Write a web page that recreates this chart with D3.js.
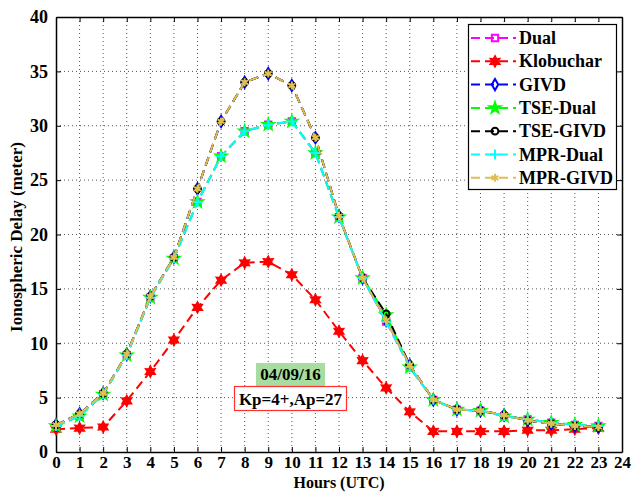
<!DOCTYPE html>
<html><head><meta charset="utf-8">
<script src="https://cdn.jsdelivr.net/npm/d3@7"></script>
<style>
body{margin:0;background:#fff;}
svg text{font-family:"Liberation Serif","Times New Roman",Times,serif !important;font-weight:bold;}
</style></head>
<body><svg id="c" width="632" height="492"></svg>
<script>
const hours = d3.range(0,24);
const xTicks = d3.range(0,25);
const yTicks = [0,5,10,15,20,25,30,35,40];
const seriesNames = ["Dual","Klobuchar","GIVD","TSE-Dual","TSE-GIVD","MPR-Dual","MPR-GIVD"];
const dual      = [2.4,3.3,5.3,8.9,14.2,17.8,23.0,27.2,29.5,30.1,30.4,27.5,21.6,16.0,12.0,7.8,4.8,3.9,3.8,3.3,3.0,2.7,2.5,2.4];
const klobuchar = [2.1,2.2,2.3,4.7,7.4,10.3,13.3,15.8,17.4,17.5,16.3,14.0,11.1,8.4,5.9,3.7,1.9,1.9,1.9,1.9,2.0,2.0,2.1,2.2];
const givd      = [2.5,3.5,5.4,9.0,14.3,17.9,24.2,30.4,34.0,34.8,33.7,28.9,21.7,16.0,12.1,8.0,4.8,3.9,3.8,3.4,2.9,2.6,2.4,2.3];
const tseDual   = [2.4,3.3,5.3,8.9,14.2,17.8,23.0,27.2,29.5,30.1,30.4,27.5,21.6,16.0,12.6,7.8,4.8,3.9,3.8,3.3,3.0,2.7,2.5,2.4];
const tseGivd   = [2.5,3.5,5.4,9.0,14.3,17.9,24.2,30.4,34.0,34.8,33.7,28.9,21.7,16.0,12.7,8.0,4.8,3.9,3.8,3.4,2.9,2.6,2.4,2.3];
const mprDual   = [2.4,3.3,5.3,8.9,14.2,17.8,23.0,27.2,29.5,30.1,30.4,27.5,21.6,16.0,12.0,7.8,4.8,3.9,3.8,3.3,3.0,2.7,2.5,2.4];
const mprGivd   = [2.5,3.5,5.4,9.0,14.3,17.9,24.2,30.4,34.0,34.8,33.7,28.9,21.7,16.0,12.1,8.0,4.8,3.9,3.8,3.4,2.9,2.6,2.4,2.3];
const dateLabel = "04/09/16";
const indexLabel = "Kp=4+,Ap=27";

const values = [dual,klobuchar,givd,tseDual,tseGivd,mprDual,mprGivd];
const colors = ["#ff00ff","#ff0000","#0000ff","#00ff00","#000000","#00ffff","#dfbf4f"];
const symbols = [d3.symbolSquare,"hex",d3.symbolDiamond,d3.symbolStar,d3.symbolCircle,"plus",d3.symbolAsterisk];
const fills = [false,true,false,true,false,false,false];

const svg = d3.select("#c");
const L=56,R=622,T=17,B=452;
const x = d3.scaleLinear().domain([0,24]).range([L,R]);
const y = d3.scaleLinear().domain([0,40]).range([B,T]);

// grid
const g = svg.append("g");
g.selectAll(".gx").data(xTicks.slice(1,-1)).enter().append("line")
 .attr("x1",d=>x(d)).attr("x2",d=>x(d)).attr("y1",T).attr("y2",B)
 .attr("stroke","#555").attr("stroke-width",1).attr("stroke-dasharray","1,3");
g.selectAll(".gy").data(yTicks.slice(1,-1)).enter().append("line")
 .attr("y1",d=>y(d)).attr("y2",d=>y(d)).attr("x1",L).attr("x2",R)
 .attr("stroke","#555").attr("stroke-width",1).attr("stroke-dasharray","1,3");

// axes
const xa = svg.append("g").attr("transform",`translate(0,${B})`)
 .call(d3.axisBottom(x).tickValues(xTicks).tickSizeInner(-5).tickSizeOuter(0).tickPadding(4));
const xt = svg.append("g").attr("transform",`translate(0,${T})`)
 .call(d3.axisTop(x).tickValues(xTicks).tickSizeInner(-5).tickSizeOuter(0).tickFormat(""));
const ya = svg.append("g").attr("transform",`translate(${L},0)`)
 .call(d3.axisLeft(y).tickValues(yTicks).tickSizeInner(-5).tickSizeOuter(0).tickPadding(8));
const yr = svg.append("g").attr("transform",`translate(${R},0)`)
 .call(d3.axisRight(y).tickValues(yTicks).tickSizeInner(-5).tickSizeOuter(0).tickFormat(""));
[xa,xt,ya,yr].forEach(a=>{
  a.attr("font-family","Liberation Serif");
  a.select(".domain").attr("stroke","#000").attr("stroke-width",1.5);
  a.selectAll(".tick line").attr("stroke","#000");
  a.selectAll("text").attr("font-size",18).attr("fill","#000");
});
xa.selectAll("text").attr("font-size",17);

function hexPath(r){
  const p=[];
  for(let i=0;i<12;i++){const a=Math.PI/6*i - Math.PI/2;const rr=i%2?r*0.55:r;p.push([rr*Math.cos(a),rr*Math.sin(a)]);}
  return "M"+p.map(q=>q.map(v=>v.toFixed(2)).join(",")).join("L")+"Z";
}
function markerPath(i){
  if(symbols[i]==="hex") return hexPath(5);
  if(symbols[i]==="plus") return "M-5,0L5,0M0,-5L0,5";
  const sizes=[40,0,36,35,36,0,45];
  return d3.symbol().type(symbols[i]).size(sizes[i])();
}

const line = d3.line().x((d,i)=>x(hours[i])).y(d=>y(d));
values.forEach((vals,i)=>{
  const s = svg.append("g");
  s.append("path").datum(vals).attr("d",line).attr("fill","none")
   .attr("stroke",colors[i]).attr("stroke-width",2).attr("stroke-dasharray","9,5");
  s.selectAll("path.m").data(vals).enter().append("path").attr("class","m")
   .attr("d",markerPath(i))
   .attr("transform",(d,j)=>`translate(${x(hours[j])},${y(d)})`)
   .attr("fill",fills[i]?colors[i]:"none").attr("stroke",colors[i]).attr("stroke-width",2);
});

// annotations
svg.append("rect").attr("x",256).attr("y",363).attr("width",69).attr("height",23).attr("fill","#a8dca0");
svg.append("text").attr("x",290.5).attr("y",380).attr("text-anchor","middle").attr("font-size",17).text(dateLabel);
svg.append("rect").attr("x",234.5).attr("y",386.5).attr("width",112).attr("height",24).attr("fill","#fff").attr("stroke","#ff3030").attr("stroke-width",1.2);
svg.append("text").attr("x",290.5).attr("y",404.5).attr("text-anchor","middle").attr("font-size",17).text(indexLabel);

// axis titles
svg.append("text").attr("x",339).attr("y",487.5).attr("text-anchor","middle").attr("font-size",16).text("Hours (UTC)");
svg.append("text").attr("transform","translate(22,237) rotate(-90)").attr("text-anchor","middle").attr("font-size",17).text("Ionospheric Delay (meter)");

// legend
const lg = svg.append("g");
lg.append("rect").attr("x",468.5).attr("y",24.5).attr("width",148).attr("height",165).attr("fill","#fff").attr("stroke","#000").attr("stroke-width",1.2);
seriesNames.forEach((n,i)=>{
  const yy = 38 + i*23.3;
  lg.append("line").attr("x1",471).attr("x2",516).attr("y1",yy).attr("y2",yy)
    .attr("stroke",colors[i]).attr("stroke-width",2).attr("stroke-dasharray","9,5");
  lg.append("path").attr("d",markerPath(i)).attr("transform",`translate(495,${yy})`)
    .attr("fill",fills[i]?colors[i]:"none").attr("stroke",colors[i]).attr("stroke-width",2);
  lg.append("text").attr("x",519).attr("y",yy+6).attr("font-size",18).text(n);
});
</script></body></html>
